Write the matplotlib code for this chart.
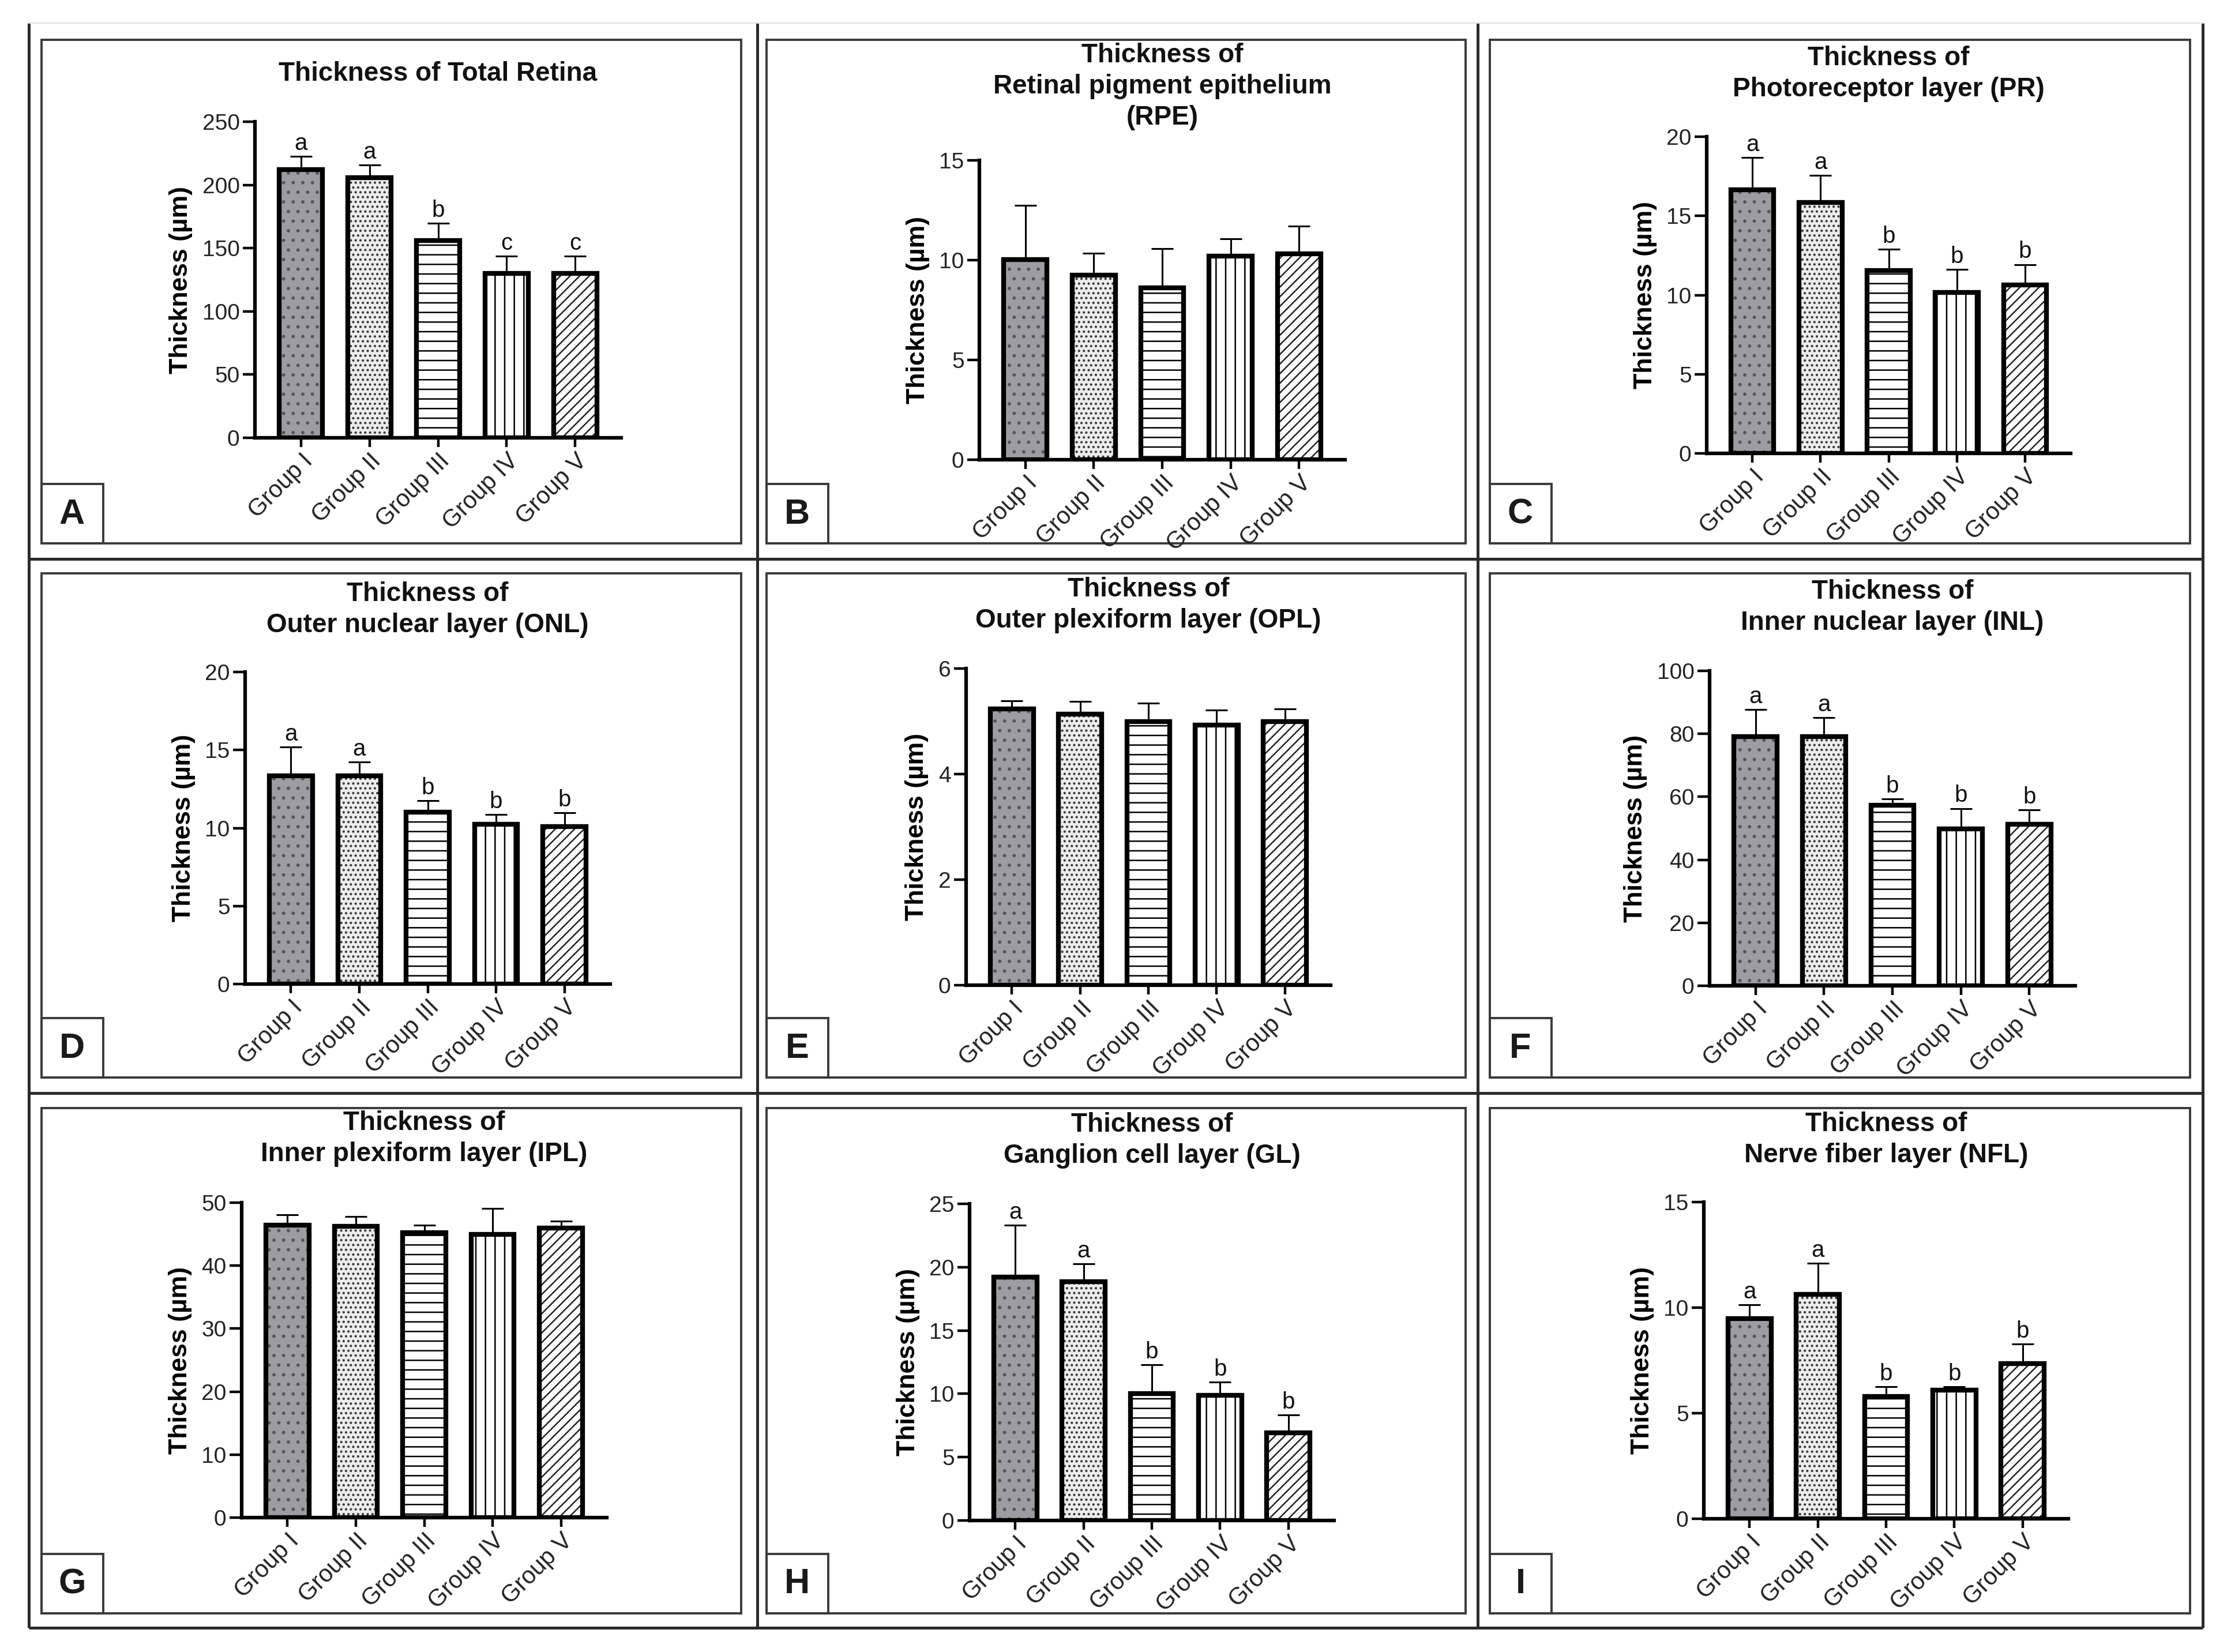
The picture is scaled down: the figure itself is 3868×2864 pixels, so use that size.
import numpy as np
import matplotlib.pyplot as plt
from matplotlib.patches import Rectangle

plt.rcParams['font.family'] = ['Liberation Sans', 'DejaVu Sans']
plt.rcParams['hatch.linewidth'] = 1.8

groups = ['Group I', 'Group II', 'Group III', 'Group IV', 'Group V']

# values (mean, upper SD)
retina_mean = [212, 205.6, 156, 130, 130]
retina_err = [10.7, 10.2, 13.7, 13.8, 13.8]
retina_sig = ['a', 'a', 'b', 'c', 'c']
retina_ticks = [0, 50, 100, 150, 200, 250]

rpe_mean = [10.03, 9.24, 8.62, 10.19, 10.32]
rpe_err = [2.71, 1.12, 1.95, 0.89, 1.39]
rpe_ticks = [0, 5, 10, 15]

pr_mean = [16.65, 15.83, 11.56, 10.15, 10.65]
pr_err = [2.05, 1.73, 1.32, 1.46, 1.28]
pr_sig = ['a', 'a', 'b', 'b', 'b']
pr_ticks = [0, 5, 10, 15, 20]

onl_mean = [13.34, 13.34, 11.01, 10.25, 10.11]
onl_err = [1.84, 0.88, 0.76, 0.62, 0.88]
onl_sig = ['a', 'a', 'b', 'b', 'b']
onl_ticks = [0, 5, 10, 15, 20]

opl_mean = [5.23, 5.14, 4.99, 4.93, 4.99]
opl_err = [0.16, 0.24, 0.35, 0.28, 0.24]
opl_ticks = [0, 2, 4, 6]

inl_mean = [79.1, 79.1, 57.4, 49.9, 51.2]
inl_err = [8.7, 6.1, 1.9, 6.4, 4.6]
inl_sig = ['a', 'a', 'b', 'b', 'b']
inl_ticks = [0, 20, 40, 60, 80, 100]

ipl_mean = [46.4, 46.2, 45.2, 45.0, 46.0]
ipl_err = [1.7, 1.6, 1.2, 4.1, 1.1]
ipl_ticks = [0, 10, 20, 30, 40, 50]

gl_mean = [19.2, 18.83, 10.0, 9.86, 6.91]
gl_err = [4.1, 1.43, 2.29, 1.05, 1.43]
gl_sig = ['a', 'a', 'b', 'b', 'b']
gl_ticks = [0, 5, 10, 15, 20, 25]

nfl_mean = [9.48, 10.63, 5.79, 6.09, 7.34]
nfl_err = [0.65, 1.47, 0.47, 0.17, 0.94]
nfl_sig = ['a', 'a', 'b', 'b', 'b']
nfl_ticks = [0, 5, 10, 15]

titles = ['Thickness of Total Retina',
          'Thickness of\nRetinal pigment epithelium\n(RPE)',
          'Thickness of\nPhotoreceptor layer (PR)',
          'Thickness of\nOuter nuclear layer (ONL)',
          'Thickness of\nOuter plexiform layer (OPL)',
          'Thickness of\nInner nuclear layer (INL)',
          'Thickness of\nInner plexiform layer (IPL)',
          'Thickness of\nGanglion cell layer (GL)',
          'Thickness of\nNerve fiber layer (NFL)']
letters = ['A', 'B', 'C', 'D', 'E', 'F', 'G', 'H', 'I']

panels = [
    (retina_mean, retina_err, retina_sig, retina_ticks),
    (rpe_mean, rpe_err, None, rpe_ticks),
    (pr_mean, pr_err, pr_sig, pr_ticks),
    (onl_mean, onl_err, onl_sig, onl_ticks),
    (opl_mean, opl_err, None, opl_ticks),
    (inl_mean, inl_err, inl_sig, inl_ticks),
    (ipl_mean, ipl_err, None, ipl_ticks),
    (gl_mean, gl_err, gl_sig, gl_ticks),
    (nfl_mean, nfl_err, nfl_sig, nfl_ticks),
]

# layout in pixels of the 3868x2864 canvas
W, H = 3868, 2864
axes_px = [(442, 211, 1077, 759), (1698, 278, 2332, 797), (2959, 237, 3590, 786),
           (425, 1165, 1058, 1706), (1675, 1159, 2307, 1708), (2964, 1163, 3598, 1709),
           (419, 2085, 1052, 2631), (1681, 2087, 2313, 2636), (2954, 2084, 3586, 2633)]
title_y = [128, 150, 128, 1057, 1049, 1053, 1974, 1977, 1976]
col_x = [(72, 1285), (1329, 2541), (2583, 3797)]
row_y = [(69, 942), (994, 1868), (1921, 2797)]

styles = [
    dict(fc='#9c9ca2', hc='#55555c', hatch='.'),
    dict(fc='#ececec', hc='#3a3a3a', hatch='..'),
    dict(fc='white', hc='black', hatch='-'),
    dict(fc='white', hc='black', hatch='|'),
    dict(fc='white', hc='#222222', hatch='//'),
]

fig = plt.figure(figsize=(W / 100, H / 100), dpi=100)
bg = fig.add_axes([0, 0, 1, 1], zorder=0)
bg.set_xlim(0, W)
bg.set_ylim(H, 0)
bg.axis('off')

# outer grid
for xv in [50, 1313, 2562, 3819]:
    bg.plot([xv, xv], [40, 2822], color='#2a2a2a', lw=3.6, solid_capstyle='butt')
for yv in [969, 1895, 2822]:
    bg.plot([50, 3819], [yv, yv], color='#2a2a2a', lw=3.6, solid_capstyle='butt')
bg.plot([50, 3819], [40, 40], color='#e6e0e0', lw=1.5)

x = np.arange(len(groups))

for i, (mean, err, sig, ticks) in enumerate(panels):
    r, c = divmod(i, 3)
    x0, x1 = col_x[c]
    y0, y1 = row_y[r]
    # panel box and letter box
    bg.add_patch(Rectangle((x0, y0), x1 - x0, y1 - y0, fill=False,
                           edgecolor='#3a3a3a', lw=2.8))
    bg.add_patch(Rectangle((x0, y1 - 103), 107, 103, fill=False,
                           edgecolor='#3a3a3a', lw=2.8))
    bg.text(x0 + 53, y1 - 50, letters[i], fontsize=44, fontweight='bold',
            ha='center', va='center', color='#1a1a1a')

    L, T, R, B = axes_px[i]
    ax = fig.add_axes([L / W, 1 - B / H, (R - L) / W, (B - T) / H], zorder=2)
    ax.patch.set_alpha(0)

    bg.text((L + R) / 2, title_y[i], titles[i], fontsize=33, fontweight='bold',
            ha='center', va='center', linespacing=1.3, color='#111111')

    for k in range(len(groups)):
        st = styles[k]
        ax.bar(x[k], mean[k], width=0.63, color=st['fc'], edgecolor=st['hc'],
               linewidth=0, hatch=st['hatch'], zorder=2)
    ax.bar(x, mean, width=0.63, fill=False, edgecolor='black', linewidth=6, zorder=3)
    ax.errorbar(x, mean, yerr=[np.zeros(len(mean)), err], fmt='none', ecolor='black',
                elinewidth=2.2, capsize=13.7, capthick=2.2, zorder=1)
    if sig is not None:
        for k in range(len(groups)):
            ax.annotate(sig[k], (x[k], mean[k] + err[k]), xytext=(0, 8),
                        textcoords='offset points', ha='center', va='baseline',
                        fontsize=29, color='#111111')

    ax.set_xlim(-0.67, 4.67)
    ax.set_ylim(0, ticks[-1])
    ax.set_yticks(ticks)
    ax.set_xticks(x)
    ax.set_xticklabels(groups, rotation=45, ha='right', rotation_mode='anchor')
    for side in ['top', 'right']:
        ax.spines[side].set_visible(False)
    for side in ['left', 'bottom']:
        ax.spines[side].set_linewidth(4.5)
    ax.tick_params(axis='y', length=15, width=3.2, labelsize=28, pad=4,
                   labelcolor='#222222')
    ax.tick_params(axis='x', length=11.5, width=3.2, labelsize=30, pad=3,
                   labelcolor='#222222')
    ax.set_ylabel('Thickness (\u00b5m)', fontsize=32, fontweight='bold', labelpad=12)

fig.savefig('out.png', dpi=100, facecolor='white')
